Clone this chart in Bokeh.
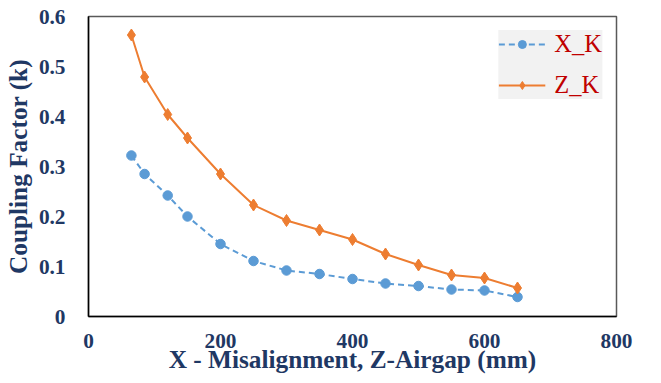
from bokeh.plotting import figure
from bokeh.embed import file_html
from bokeh.resources import INLINE
from bokeh.models import Range1d, Legend, LegendItem, FixedTicker

x_vals = [65, 85, 120, 150, 200, 250, 300, 350, 400, 450, 500, 550, 600, 650]
x_k = [0.322, 0.285, 0.242, 0.200, 0.145, 0.111, 0.092, 0.085, 0.075, 0.066, 0.061, 0.054, 0.052, 0.039]
z_k = [0.563, 0.479, 0.404, 0.357, 0.285, 0.223, 0.192, 0.173, 0.154, 0.125, 0.103, 0.083, 0.077, 0.057]
x_ticks = [0, 200, 400, 600, 800]
y_ticks = [0, 0.1, 0.2, 0.3, 0.4, 0.5, 0.6]
y_tick_labels = {0: "0", 0.1: "0.1", 0.2: "0.2", 0.3: "0.3", 0.4: "0.4", 0.5: "0.5", 0.6: "0.6"}

NAVY = "#1F3864"
BLUE = "#5B9BD5"
ORANGE = "#ED7D31"
FONT = "Liberation Serif"

p = figure(width=645, height=375, output_backend="svg", toolbar_location=None,
           x_range=Range1d(0, 800), y_range=Range1d(0, 0.6),
           min_border_left=82, min_border_right=29, min_border_top=16, min_border_bottom=59)

p.xgrid.visible = False
p.ygrid.visible = False
p.outline_line_color = "#595959"
p.outline_line_width = 1.5

p.xaxis.ticker = FixedTicker(ticks=x_ticks)
p.yaxis.ticker = FixedTicker(ticks=y_ticks)
p.yaxis.major_label_overrides = y_tick_labels
for ax in (p.xaxis, p.yaxis):
    ax.major_tick_line_color = None
    ax.minor_tick_line_color = None
    ax.axis_line_color = "black"
    ax.axis_line_width = 1.5
    ax.major_label_text_font = FONT
    ax.major_label_text_font_style = "bold"
    ax.major_label_text_font_size = "21.3px"
    ax.major_label_text_color = NAVY
    ax.axis_label_text_font = FONT
    ax.axis_label_text_font_style = "bold"
    ax.axis_label_text_font_size = "25.3px"
    ax.axis_label_text_color = NAVY

p.xaxis.major_label_standoff = 11
p.yaxis.major_label_standoff = 17
p.xaxis.axis_label = "X - Misalignment, Z-Airgap (mm)"
p.yaxis.axis_label = "Coupling Factor (k)"
p.xaxis.axis_label_standoff = -6
p.yaxis.axis_label_standoff = 4

r1l = p.line(x_vals, x_k, line_color=BLUE, line_width=2, line_dash="6 4")
r1m = p.scatter(x_vals, x_k, marker="circle", size=9.5, fill_color=BLUE, line_color=BLUE)
r2l = p.line(x_vals, z_k, line_color=ORANGE, line_width=2)
r2m = p.scatter(x_vals, z_k, marker="diamond", size=12, fill_color=ORANGE, line_color=ORANGE)

legend = Legend(items=[LegendItem(label="X_K", renderers=[r1l, r1m]),
                       LegendItem(label="Z_K", renderers=[r2l, r2m])],
                location="top_right",
                background_fill_color="#F2F2F2", background_fill_alpha=1.0,
                border_line_color=None,
                label_text_font=FONT, label_text_font_size="24.5px",
                label_text_color="#C00000",
                glyph_width=47, glyph_height=20, spacing=13,
                padding=7, margin=14, label_standoff=9)
p.add_layout(legend)

open("out.html", "w").write(file_html(p, INLINE))
